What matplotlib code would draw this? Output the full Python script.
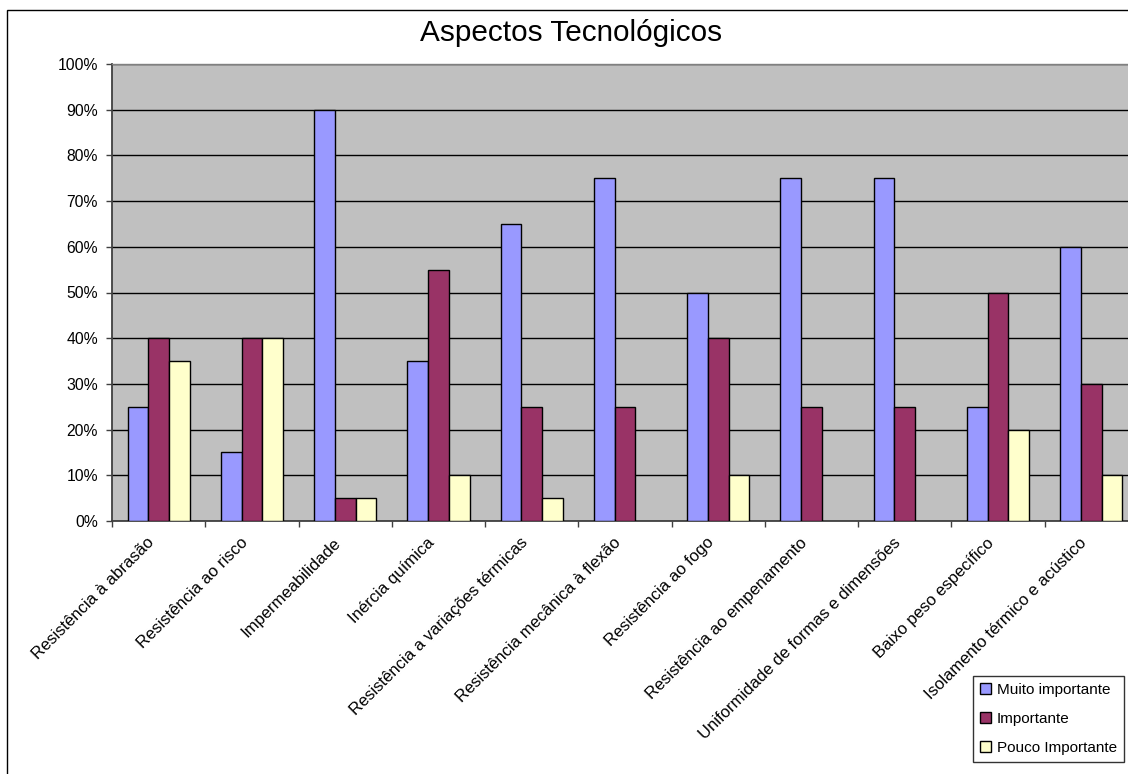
import matplotlib
matplotlib.use("Agg")
import matplotlib.pyplot as plt
import numpy as np
from matplotlib.patches import Rectangle
from matplotlib.transforms import ScaledTranslation
from matplotlib.ticker import FixedLocator, PercentFormatter

plt.rcParams['font.family'] = ['Liberation Sans', 'DejaVu Sans']

categories = [
    "Resistência à abrasão",
    "Resistência ao risco",
    "Impermeabilidade",
    "Inércia química",
    "Resistência a variações térmicas",
    "Resistência mecânica à flexão",
    "Resistência ao fogo",
    "Resistência ao empenamento",
    "Uniformidade de formas e dimensões",
    "Baixo peso específico",
    "Isolamento térmico e acústico",
]
series_names = ["Muito importante", "Importante", "Pouco Importante"]
muito = [25, 15, 90, 35, 65, 75, 50, 75, 75, 25, 60]
importante = [40, 40, 5, 55, 25, 25, 40, 25, 25, 50, 30]
pouco = [35, 40, 5, 10, 5, 0, 10, 0, 0, 20, 10]
colors = ["#9999FF", "#993366", "#FFFFCC"]

W, H = 1128, 774
fig = plt.figure(figsize=(W / 100, H / 100), dpi=100)
fig.patch.set_facecolor("white")

# outer chart border (cropped at right/bottom)
fig.patches.append(Rectangle((7 / W, -0.05), 1.2, 1 - 10 / H + 0.05,
                             transform=fig.transFigure, fill=False,
                             edgecolor="black", linewidth=1.0, zorder=0))

left, right, top, bottom = 112, 1138, 64, 521
ax = fig.add_axes([left / W, 1 - bottom / H, (right - left) / W, (bottom - top) / H])
ax.set_facecolor("#C0C0C0")

x = np.arange(len(categories))
bw = 1 / 4.5
for k, (vals, c, name) in enumerate(zip([muito, importante, pouco], colors, series_names)):
    vals = np.array(vals) / 100.0
    bars = ax.bar(x + (k - 1) * bw, vals, width=bw, color=c, edgecolor="black",
                  linewidth=1.0, label=name, zorder=3)
    for b, v in zip(bars, vals):
        if v == 0:
            b.set_visible(False)

ax.set_xlim(-0.5, len(categories) - 0.5)
ax.set_ylim(0, 1)
ax.yaxis.set_major_locator(FixedLocator(np.arange(0, 1.01, 0.1)))
ax.yaxis.set_major_formatter(PercentFormatter(1.0, decimals=0))
ax.grid(axis="y", color="black", linewidth=1.0, zorder=1)
ax.set_axisbelow(True)

for s in ["top", "right"]:
    ax.spines[s].set_color("#808080")
    ax.spines[s].set_linewidth(1.0)
ax.spines["left"].set_color("#404040")
ax.spines["bottom"].set_color("#404040")
ax.spines["left"].set_linewidth(1.3)
ax.spines["bottom"].set_linewidth(1.3)

ax.tick_params(axis="y", direction="out", length=4, width=1, labelsize=11.3, pad=6,
               color="#404040")
ax.set_xticks(x)
ax.set_xticks(np.arange(-0.5, len(categories) + 0.5, 1), minor=True)
ax.tick_params(axis="x", which="major", length=0, labelsize=12, pad=0)
ax.tick_params(axis="x", which="minor", length=4, width=1, color="#404040", direction="out")
ax.set_xticklabels(categories, rotation=45, ha="right", va="top", rotation_mode="anchor")
off = ScaledTranslation(-12 / 100, -14 / 100, fig.dpi_scale_trans)
for lab in ax.get_xticklabels():
    lab.set_transform(lab.get_transform() + off)

fig.text(571 / W, 1 - 33 / H, "Aspectos Tecnológicos", fontsize=21.4,
         ha="center", va="center")

leg = fig.legend(loc="upper left", bbox_to_anchor=(973 / W, 1 - 676 / H),
                 frameon=True, fancybox=False, edgecolor="black", fontsize=11,
                 handlelength=0.7, handleheight=0.7, handletextpad=0.4,
                 labelspacing=0.98, borderpad=0.45, borderaxespad=0)
leg.get_frame().set_linewidth(1.0)

fig.savefig("out.png", dpi=100)
